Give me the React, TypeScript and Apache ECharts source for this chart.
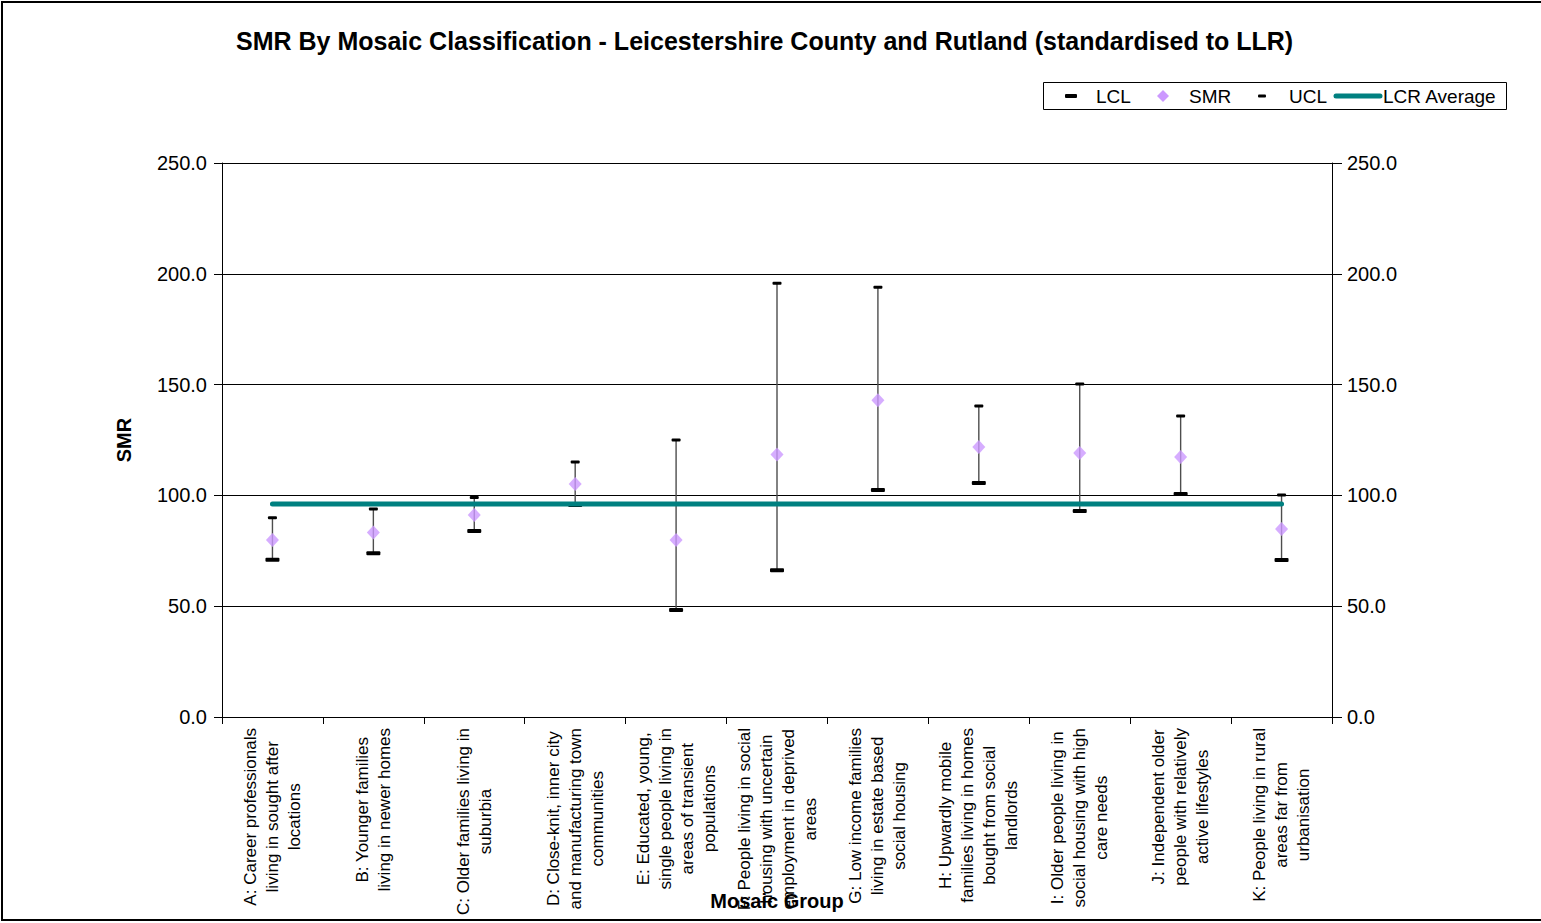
import React, { useEffect, useRef } from "react";
import * as echarts from "echarts";

const FONT = "'Liberation Sans', Arial, sans-serif";

const titleText =
  "SMR By Mosaic Classification - Leicestershire County and Rutland (standardised to LLR)";

const categories = [
  "A: Career professionals\nliving in sought after\nlocations",
  "B: Younger families\nliving in newer homes",
  "C: Older families living in\nsuburbia",
  "D: Close-knit, inner city\nand manufacturing town\ncommunities",
  "E: Educated, young,\nsingle people living in\nareas of transient\npopulations",
  "F: People living in social\nhousing with uncertain\nemployment in deprived\nareas",
  "G: Low income families\nliving in estate based\nsocial housing",
  "H: Upwardly mobile\nfamilies living in homes\nbought from social\nlandlords",
  "I: Older people living in\nsocial housing with high\ncare needs",
  "J: Independent older\npeople with relatively\nactive lifestyles",
  "K: People living in rural\nareas far from\nurbanisation",
];

const lcl = [71.0, 73.9, 83.9, 95.7, 48.3, 66.2, 102.4, 105.6, 93.0, 100.6, 70.8];
const smr = [79.9, 83.3, 91.2, 105.1, 79.9, 118.5, 142.9, 121.8, 119.1, 117.3, 84.8];
const ucl = [89.9, 93.9, 99.0, 115.1, 125.0, 195.7, 193.9, 140.3, 150.3, 135.8, 100.2];
const lcrAverage = [96.1, 96.1, 96.1, 96.1, 96.1, 96.1, 96.1, 96.1, 96.1, 96.1, 96.1];

const yMin = 0;
const yMax = 250;
const yInterval = 50;

const legendNames = ["LCL", "SMR", "UCL", "LCR Average"];

export default function App() {
  const ref = useRef<HTMLDivElement>(null);

  useEffect(() => {
    if (!ref.current) return;
    const chart = echarts.init(ref.current, null, { renderer: "svg" });

    const yAxisBase = {
      type: "value",
      min: yMin,
      max: yMax,
      interval: yInterval,
      axisLine: { show: true, lineStyle: { color: "#000", width: 1 } },
      axisTick: { show: true, inside: false, lineStyle: { color: "#000", width: 1 } },
      axisLabel: {
        color: "#000",
        fontSize: 20,
        fontFamily: FONT,
        formatter: (v: number) => v.toFixed(1),
      },
    };

    const legendTextStyle = {
      fontSize: 19,
      fontFamily: FONT,
      fill: "#000",
      verticalAlign: "middle",
    };

    const option = {
      animation: false,
      backgroundColor: "#fff",
      title: {
        text: titleText,
        left: 236,
        top: 28,
        padding: 0,
        textStyle: { fontSize: 25, fontWeight: "bold", fontFamily: FONT, color: "#000" },
      },
      grid: {
        left: 222,
        right: 209,
        top: 163,
        bottom: 206,
        containLabel: false,
        outerBoundsMode: "none",
      },
      xAxis: {
        type: "category",
        data: categories,
        boundaryGap: true,
        name: "Mosaic Group",
        nameLocation: "middle",
        nameGap: 174,
        nameMoveOverlap: false,
        nameTextStyle: {
          fontSize: 20,
          fontWeight: "bold",
          fontFamily: FONT,
          color: "#000",
          backgroundColor: "#fff",
          padding: [0, 1],
        },
        axisLine: { show: true, lineStyle: { color: "#000", width: 1 } },
        axisTick: { show: true, interval: 0, length: 7, alignWithLabel: false, lineStyle: { color: "#000" } },
        axisLabel: {
          interval: 0,
          rotate: 90,
          margin: 11,
          formatter: (v: string) =>
            v
              .split("\n")
              .map((l) => `{c|${l}}`)
              .join("\n"),
          rich: {
            c: { align: "center", fontSize: 17, lineHeight: 22, fontFamily: FONT, color: "#000" },
          },
        },
        splitLine: { show: false },
      },
      yAxis: [
        {
          ...yAxisBase,
          position: "left",
          name: "SMR",
          nameLocation: "middle",
          nameGap: 88,
          nameMoveOverlap: false,
          nameTextStyle: { fontSize: 20, fontWeight: "bold", fontFamily: FONT, color: "#000" },
          axisTick: { ...yAxisBase.axisTick, length: 8 },
          axisLabel: { ...yAxisBase.axisLabel, margin: 15 },
          splitLine: { show: true, lineStyle: { color: "#000", width: 1 } },
        },
        {
          ...yAxisBase,
          position: "right",
          axisTick: { ...yAxisBase.axisTick, length: 10 },
          axisLabel: { ...yAxisBase.axisLabel, margin: 15 },
          splitLine: { show: false },
        },
      ],
      series: [
        {
          name: "LCL/UCL",
          type: "custom",
          xAxisIndex: 0,
          yAxisIndex: 0,
          z: 2,
          data: categories.map((_, i) => [i, lcl[i], ucl[i]]),
          encode: { x: 0, y: [1, 2] },
          renderItem: (_params: any, api: any) => {
            const idx = api.value(0);
            const lo = api.coord([idx, api.value(1)]);
            const hi = api.coord([idx, api.value(2)]);
            return {
              type: "group",
              children: [
                {
                  type: "line",
                  shape: { x1: lo[0], y1: lo[1], x2: hi[0], y2: hi[1] },
                  style: { stroke: "#4d4d4d", lineWidth: 1.4 },
                },
                {
                  type: "rect",
                  shape: { x: lo[0] - 7, y: lo[1] - 2, width: 14, height: 4, r: 1 },
                  style: { fill: "#000" },
                },
                {
                  type: "rect",
                  shape: { x: hi[0] - 4.5, y: hi[1] - 1.5, width: 9, height: 3, r: 1 },
                  style: { fill: "#000" },
                },
              ],
            };
          },
        },
        {
          name: "SMR",
          type: "scatter",
          z: 3,
          data: smr,
          symbol: "diamond",
          symbolSize: [13, 14],
          itemStyle: { color: "#CC99FF" },
        },
        {
          name: "LCR Average",
          type: "line",
          z: 4,
          data: lcrAverage,
          symbol: "none",
          lineStyle: { color: "#008080", width: 5, cap: "round" },
        },
      ],
      graphic: [
        {
          type: "rect",
          z: 100,
          shape: { x: 2, y: 2, width: 1600, height: 918 },
          style: { fill: "none", stroke: "#000", lineWidth: 2 },
          silent: true,
        },
        {
          type: "group",
          z: 100,
          children: [
            {
              type: "rect",
              shape: { x: 1043.5, y: 82.5, width: 463, height: 27 },
              style: { fill: "#fff", stroke: "#000", lineWidth: 1 },
            },
            {
              type: "rect",
              shape: { x: 1065, y: 94, width: 12, height: 4, r: 1 },
              style: { fill: "#000" },
            },
            {
              type: "text",
              x: 1096,
              y: 96.5,
              style: { ...legendTextStyle, text: legendNames[0] },
            },
            {
              type: "polygon",
              shape: {
                points: [
                  [1163, 90],
                  [1169, 96],
                  [1163, 102],
                  [1157, 96],
                ],
              },
              style: { fill: "#CC99FF" },
            },
            {
              type: "text",
              x: 1189,
              y: 96.5,
              style: { ...legendTextStyle, text: legendNames[1] },
            },
            {
              type: "rect",
              shape: { x: 1258, y: 94.5, width: 8, height: 3, r: 1 },
              style: { fill: "#000" },
            },
            {
              type: "text",
              x: 1289,
              y: 96.5,
              style: { ...legendTextStyle, text: legendNames[2] },
            },
            {
              type: "line",
              shape: { x1: 1336, y1: 96, x2: 1380, y2: 96 },
              style: { stroke: "#008080", lineWidth: 5, lineCap: "round" },
            },
            {
              type: "text",
              x: 1383,
              y: 96.5,
              style: { ...legendTextStyle, text: legendNames[3] },
            },
          ],
        },
      ],
    };

    chart.setOption(option as any);
    return () => chart.dispose();
  }, []);

  return (
    <div
      ref={ref}
      style={{ position: "absolute", left: 0, top: 0, width: 1541, height: 923 }}
    />
  );
}
